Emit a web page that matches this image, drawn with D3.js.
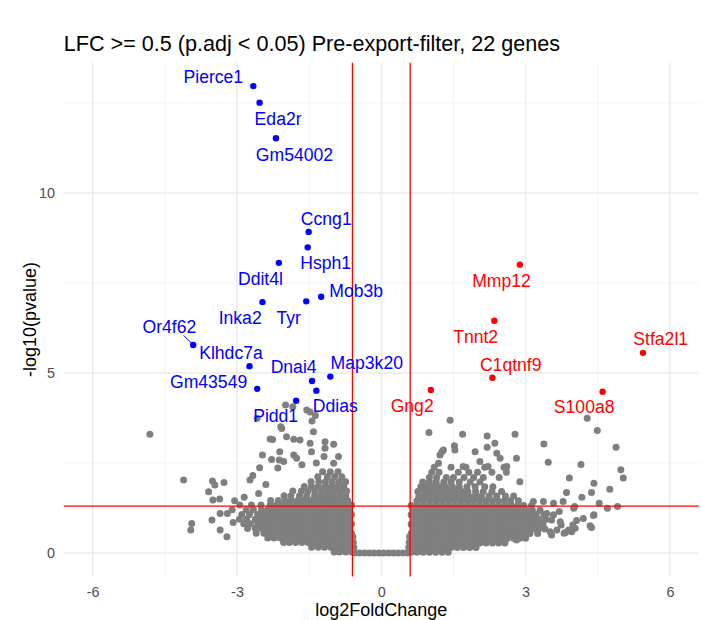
<!DOCTYPE html>
<html>
<head>
<meta charset="utf-8">
<script src="https://cdn.jsdelivr.net/npm/d3@7"></script>
<style>
  body { margin: 0; background: #fff; }
  text { font-family: "Liberation Sans", Arial, sans-serif; }
</style>
</head>
<body>
<div id="chart"></div>
<script>
// labelled genes (22)
const genes = ["Pierce1", "Eda2r", "Gm54002", "Ccng1", "Hsph1", "Ddit4l", "Inka2", "Tyr", "Mob3b",
  "Or4f62", "Klhdc7a", "Gm43549", "Dnai4", "Map3k20", "Ddias", "Pidd1",
  "Mmp12", "Tnnt2", "C1qtnf9", "Gng2", "S100a8", "Stfa2l1"];
const geneLFC = [-2.66, -2.53, -2.19, -1.51, -1.53, -2.13, -2.47, -1.56, -1.25,
  -3.91, -2.74, -2.58, -1.44, -1.06, -1.35, -1.77,
  2.88, 2.35, 2.31, 1.03, 4.60, 5.44];
const geneLogP = [12.97, 12.51, 11.52, 8.92, 8.49, 8.06, 6.97, 6.99, 7.12,
  5.78, 5.19, 4.56, 4.78, 4.90, 4.51, 4.23,
  8.01, 6.45, 4.87, 4.53, 4.48, 5.56];

// scattered non-significant genes [log2FoldChange, -log10(pvalue)]
const grayScatter = [
  [-4.81, 3.30], [-4.11, 2.03], [-3.51, 2.00], [-3.46, 1.89], [-3.27, 1.96], [-3.59, 1.70], [-3.50, 1.47],
  [-3.36, 1.50], [-3.94, 0.82], [-3.96, 0.64], [-3.52, 0.92], [-3.35, 1.10], [-3.35, 0.64], [-3.21, 0.45],
  [-3.20, 1.10], [-2.94, 1.33], [-3.08, 0.85], [-2.73, 2.03], [-2.67, 2.15], [-2.53, 2.37], [-2.47, 2.72],
  [-2.28, 2.60], [-2.12, 2.58], [-2.15, 2.36], [-2.31, 3.17], [-2.11, 2.81], [-2.07, 3.46], [-2.03, 2.54],
  [-1.97, 3.23], [-1.82, 2.72], [-1.76, 2.63], [-1.69, 3.14], [-1.82, 3.16], [-1.48, 3.05], [-1.45, 2.81],
  [-1.17, 3.09], [-0.99, 3.02], [-1.17, 2.91], [-1.19, 2.68], [-0.89, 2.68], [-0.99, 2.49], [-1.41, 3.37],
  [-1.48, 3.92], [-1.55, 3.97], [-1.99, 4.11], [-1.84, 4.06], [-1.37, 3.82], [-1.44, 3.67], [-2.09, 3.51],
  [-2.26, 3.15], [-2.58, 3.74], [-1.65, 2.45], [-1.35, 2.50], [-2.40, 1.90], [-2.55, 1.65], [-2.85, 1.55],
  [-3.05, 1.45], [-3.10, 1.20],
  [0.99, 3.35], [1.43, 3.69], [1.69, 3.30], [2.20, 3.25], [2.78, 3.30], [2.36, 3.05], [2.20, 2.94],
  [1.52, 2.98], [1.53, 2.86], [1.26, 2.81], [1.22, 2.72], [1.29, 2.86], [1.19, 2.49], [1.95, 2.81],
  [2.40, 2.77], [2.47, 2.63], [2.61, 2.40], [2.81, 2.63], [2.05, 2.54], [1.70, 2.40], [2.22, 2.40],
  [2.88, 1.98], [3.38, 3.03], [3.47, 2.52], [4.28, 3.74], [4.49, 3.40], [4.88, 2.94], [4.15, 2.46],
  [4.98, 2.31], [5.03, 2.08], [3.91, 2.08], [4.42, 1.94], [3.85, 1.68], [4.37, 1.68], [4.75, 1.77],
  [4.17, 1.55], [4.53, 1.38], [4.70, 1.24], [4.91, 1.29], [4.42, 1.06], [4.20, 0.96], [4.06, 0.90],
  [3.98, 0.78], [4.37, 0.71], [3.74, 0.78], [3.65, 0.64], [3.54, 0.50], [3.80, 0.55], [3.96, 0.59],
  [3.58, 1.06], [3.70, 1.15], [4.00, 1.24], [3.37, 1.43], [3.16, 1.43], [3.58, 1.38], [3.78, 1.43],
  [4.02, 1.29], [4.41, 1.04], [3.51, 0.59], [3.89, 0.64], [4.03, 0.69], [3.54, 0.92], [3.72, 0.87],
  [3.30, 0.87], [3.44, 1.10], [2.81, 0.36], [2.19, 0.45], [4.34, 0.76], [3.83, 0.57],
  [-0.57, 0.15], [-0.58, 0.30], [-0.59, 0.45], [0.57, 0.15], [0.58, 0.30], [0.59, 0.45]
];

// dense bulk of genes, read row by row: [-log10(pvalue), [log2FoldChange ...]]
const grayRows = [
  [0.00, [-0.55, -0.45, -0.35, -0.25, -0.15, -0.05, 0.05, 0.15, 0.25, 0.35, 0.45, 0.55]],
  [0.03, [-0.62, -0.74, -0.87, -0.98]],
  [0.16, [-0.66, -0.79, -0.92, -1.05, -1.18, -1.31, -1.45]],
  [0.29, [-0.61, -0.74, -0.87, -1.00, -1.13, -1.26, -1.39, -1.52, -1.65, -1.78, -1.91, -2.03]],
  [0.42, [-0.67, -0.80, -0.93, -1.06, -1.19, -1.32, -1.45, -1.58, -1.71, -1.84, -1.97, -2.10, -2.23, -2.36]],
  [0.55, [-0.62, -0.75, -0.88, -1.01, -1.14, -1.27, -1.40, -1.53, -1.66, -1.79, -1.92, -2.05, -2.18, -2.31, -2.44, -2.60]],
  [0.68, [-0.67, -0.80, -0.93, -1.06, -1.19, -1.32, -1.45, -1.58, -1.71, -1.84, -1.97, -2.10, -2.23, -2.36, -2.49, -2.62, -2.78]],
  [0.81, [-0.62, -0.75, -0.88, -1.01, -1.14, -1.27, -1.40, -1.53, -1.66, -1.79, -1.92, -2.05, -2.18, -2.31, -2.44, -2.57, -2.72, -2.86]],
  [0.94, [-0.67, -0.80, -0.93, -1.06, -1.19, -1.32, -1.45, -1.58, -1.71, -1.84, -1.97, -2.10, -2.23, -2.36, -2.49, -2.62, -2.80, -2.95]],
  [1.07, [-0.62, -0.75, -0.88, -1.01, -1.14, -1.27, -1.40, -1.53, -1.66, -1.79, -1.92, -2.05, -2.18, -2.31, -2.44, -2.57, -2.74, -2.90]],
  [1.20, [-0.67, -0.80, -0.93, -1.06, -1.19, -1.32, -1.45, -1.58, -1.71, -1.84, -1.97, -2.10, -2.23, -2.36, -2.49, -2.66, -2.81]],
  [1.33, [-0.62, -0.75, -0.88, -1.01, -1.14, -1.27, -1.40, -1.53, -1.66, -1.79, -1.92, -2.05, -2.18, -2.31, -2.50, -2.70]],
  [1.46, [-0.70, -0.83, -0.96, -1.09, -1.22, -1.35, -1.48, -1.61, -1.74, -1.87, -2.00, -2.14, -2.30]],
  [1.59, [-0.74, -0.87, -1.00, -1.13, -1.26, -1.39, -1.55, -1.70, -1.88, -2.02]],
  [1.72, [-0.72, -0.85, -0.98, -1.11, -1.24, -1.38, -1.52, -1.66, -1.84]],
  [1.85, [-0.78, -0.91, -1.04, -1.17, -1.31, -1.45, -1.60]],
  [1.98, [-0.74, -0.88, -1.02, -1.16, -1.30, -1.46]],
  [2.12, [-0.82, -0.97, -1.12, -1.32]],
  [2.26, [-0.90, -1.06, -1.22]],
  [0.02, [0.62, 0.74, 0.87, 1.00, 1.13, 1.26, 1.39]],
  [0.15, [0.67, 0.80, 0.93, 1.06, 1.19, 1.32, 1.45, 1.58, 1.71, 1.84, 1.97]],
  [0.28, [0.62, 0.75, 0.88, 1.01, 1.14, 1.27, 1.40, 1.53, 1.66, 1.79, 1.92, 2.05, 2.18, 2.31, 2.44, 2.57]],
  [0.41, [0.67, 0.80, 0.93, 1.06, 1.19, 1.32, 1.45, 1.58, 1.71, 1.84, 1.97, 2.10, 2.23, 2.36, 2.49, 2.62, 2.75, 2.88, 3.00]],
  [0.54, [0.62, 0.75, 0.88, 1.01, 1.14, 1.27, 1.40, 1.53, 1.66, 1.79, 1.92, 2.05, 2.18, 2.31, 2.44, 2.57, 2.70, 2.83, 2.96, 3.09, 3.25]],
  [0.67, [0.67, 0.80, 0.93, 1.06, 1.19, 1.32, 1.45, 1.58, 1.71, 1.84, 1.97, 2.10, 2.23, 2.36, 2.49, 2.62, 2.75, 2.88, 3.01, 3.14, 3.27, 3.40]],
  [0.80, [0.62, 0.75, 0.88, 1.01, 1.14, 1.27, 1.40, 1.53, 1.66, 1.79, 1.92, 2.05, 2.18, 2.31, 2.44, 2.57, 2.70, 2.83, 2.96, 3.09, 3.22, 3.36]],
  [0.93, [0.67, 0.80, 0.93, 1.06, 1.19, 1.32, 1.45, 1.58, 1.71, 1.84, 1.97, 2.10, 2.23, 2.36, 2.49, 2.62, 2.75, 2.88, 3.01, 3.14, 3.27, 3.42]],
  [1.06, [0.62, 0.75, 0.88, 1.01, 1.14, 1.27, 1.40, 1.53, 1.66, 1.79, 1.92, 2.05, 2.18, 2.31, 2.44, 2.57, 2.70, 2.83, 2.96, 3.09, 3.22, 3.38]],
  [1.19, [0.67, 0.80, 0.93, 1.06, 1.19, 1.32, 1.45, 1.58, 1.71, 1.84, 1.97, 2.10, 2.23, 2.36, 2.49, 2.62, 2.75, 2.88, 3.01, 3.14, 3.30]],
  [1.32, [0.62, 0.75, 0.88, 1.01, 1.14, 1.27, 1.40, 1.53, 1.66, 1.79, 1.92, 2.05, 2.18, 2.31, 2.44, 2.57, 2.70, 2.83, 2.96, 3.12]],
  [1.45, [0.74, 0.87, 1.00, 1.13, 1.26, 1.39, 1.52, 1.65, 1.78, 1.91, 2.04, 2.17, 2.30, 2.43, 2.56, 2.69, 2.85]],
  [1.58, [0.78, 0.91, 1.04, 1.17, 1.30, 1.43, 1.56, 1.69, 1.82, 1.95, 2.08, 2.24, 2.40, 2.58, 2.75]],
  [1.71, [0.76, 0.89, 1.02, 1.15, 1.28, 1.41, 1.54, 1.67, 1.80, 1.96, 2.12, 2.30, 2.50]],
  [1.84, [0.82, 0.95, 1.08, 1.21, 1.34, 1.48, 1.62, 1.78, 1.95, 2.15, 2.32]],
  [1.97, [0.86, 1.00, 1.14, 1.30, 1.45, 1.62, 1.85, 2.05]],
  [2.10, [1.00, 1.15, 1.35, 1.50, 1.72, 1.92, 2.12, 2.45]],
  [2.24, [1.05, 1.20, 1.60, 1.82, 2.00, 2.30, 2.60]],
  [2.38, [1.10, 1.45, 1.76, 2.15, 2.55]]
];

// thresholds
const lfcCut = 0.6;
const pCut = 0.05;

// label placement (pixel nudges, ggrepel-like)
const labelNudge = [[-40, -9], [18.5, 16.6], [18.5, 16.7], [17.6, -13], [18, 16], [-18.4, 16.6], [-22.3, 16.3],
  [-17.5, 17], [35, -6], [-23.8, -18.3], [-18.5, -13.3], [-48.6, -6.7], [-18.4, -14.3], [36.5, -13.4],
  [19, 15.3], [-20.5, 15.3], [-18.3, 16], [-18.7, 16], [18.3, -12.7], [-18.7, 16], [-18.4, 15.6], [17.7, -13.4]];
const labelSegment = { "Or4f62": [-9.5, -9.5] };

const width = 701, height = 620;
const panel = { left: 63.8, right: 698.8, top: 62.7, bottom: 576.4 };

const svg = d3.select("#chart").append("svg")
  .attr("width", width)
  .attr("height", height);

const x = d3.scaleLinear().domain([-6.6, 6.6]).range([panel.left, panel.right]);
const y = d3.scaleLinear().domain([-0.65, 13.62]).range([panel.bottom, panel.top]);

// grid (theme_minimal)
const grid = svg.append("g");
[-4.5, -1.5, 1.5, 4.5].forEach(v => grid.append("line")
  .attr("x1", x(v)).attr("x2", x(v)).attr("y1", panel.top).attr("y2", panel.bottom)
  .attr("stroke", "#f0f0f0").attr("stroke-width", 0.8));
[2.5, 7.5, 12.5].forEach(v => grid.append("line")
  .attr("x1", panel.left).attr("x2", panel.right).attr("y1", y(v)).attr("y2", y(v))
  .attr("stroke", "#f0f0f0").attr("stroke-width", 0.8));
[-6, -3, 0, 3, 6].forEach(v => grid.append("line")
  .attr("x1", x(v)).attr("x2", x(v)).attr("y1", panel.top).attr("y2", panel.bottom)
  .attr("stroke", "#ebebeb").attr("stroke-width", 1.5));
[0, 5, 10].forEach(v => grid.append("line")
  .attr("x1", panel.left).attr("x2", panel.right).attr("y1", y(v)).attr("y2", y(v))
  .attr("stroke", "#ebebeb").attr("stroke-width", 1.5));

// axes (labels only)
const xAxis = svg.append("g")
  .attr("transform", `translate(0,${panel.bottom})`)
  .call(d3.axisBottom(x).tickValues([-6, -3, 0, 3, 6]).tickSize(0).tickPadding(10.5).tickFormat(d => String(d)));
const yAxis = svg.append("g")
  .attr("transform", `translate(${panel.left},0)`)
  .call(d3.axisLeft(y).tickValues([0, 5, 10]).tickSize(0).tickPadding(8.8).tickFormat(d => String(d)));
[xAxis, yAxis].forEach(a => {
  a.select(".domain").remove();
  a.selectAll("text").attr("fill", "#4d4d4d").style("font-size", "14.4px")
    .style("font-family", "'Liberation Sans', Arial, sans-serif");
});

// points
const grayPoints = grayScatter.concat(grayRows.flatMap(([py, xs]) => xs.map(px => [px, py])));
svg.append("g").selectAll("circle")
  .data(grayPoints)
  .enter().append("circle")
  .attr("cx", d => x(d[0]))
  .attr("cy", d => y(d[1]))
  .attr("r", 3.5)
  .attr("fill", "#7f7f7f");

const sig = genes.map((g, i) => ({ gene: g, lfc: geneLFC[i], lp: geneLogP[i], nudge: labelNudge[i] }));
const colorOf = d => d.lfc < 0 ? "#0000ff" : "#ff0000";

// threshold lines
svg.append("line")
  .attr("x1", panel.left).attr("x2", panel.right)
  .attr("y1", y(-Math.log10(pCut))).attr("y2", y(-Math.log10(pCut)))
  .attr("stroke", "#ff0000").attr("stroke-width", 1.3);
[-lfcCut, lfcCut].forEach(v => svg.append("line")
  .attr("x1", x(v)).attr("x2", x(v)).attr("y1", panel.top).attr("y2", panel.bottom)
  .attr("stroke", "#ff0000").attr("stroke-width", 1.3));

svg.append("g").selectAll("circle")
  .data(sig)
  .enter().append("circle")
  .attr("cx", d => x(d.lfc))
  .attr("cy", d => y(d.lp))
  .attr("r", 3.2)
  .attr("fill", colorOf);

// repel segments
sig.filter(d => labelSegment[d.gene]).forEach(d => {
  const s = labelSegment[d.gene];
  svg.append("line")
    .attr("x1", x(d.lfc)).attr("y1", y(d.lp))
    .attr("x2", x(d.lfc) + s[0]).attr("y2", y(d.lp) + s[1])
    .attr("stroke", colorOf(d)).attr("stroke-width", 1);
});

svg.append("g").selectAll("text")
  .data(sig)
  .enter().append("text")
  .attr("x", d => x(d.lfc) + d.nudge[0])
  .attr("y", d => y(d.lp) + d.nudge[1])
  .attr("text-anchor", "middle")
  .attr("dominant-baseline", "central")
  .attr("fill", colorOf)
  .style("font-size", "17.6px")
  .text(d => d.gene);

// titles
svg.append("text")
  .attr("x", panel.left).attr("y", 51)
  .style("font-size", "21.6px")
  .attr("fill", "#000")
  .text("LFC >= 0.5 (p.adj < 0.05) Pre-export-filter, 22 genes");

svg.append("text")
  .attr("x", (panel.left + panel.right) / 2).attr("y", 615.5)
  .attr("text-anchor", "middle")
  .style("font-size", "18px")
  .text("log2FoldChange");

svg.append("text")
  .attr("transform", `translate(36.4,${(panel.top + panel.bottom) / 2}) rotate(-90)`)
  .attr("text-anchor", "middle")
  .style("font-size", "18px")
  .text("-log10(pvalue)");
</script>
</body>
</html>
